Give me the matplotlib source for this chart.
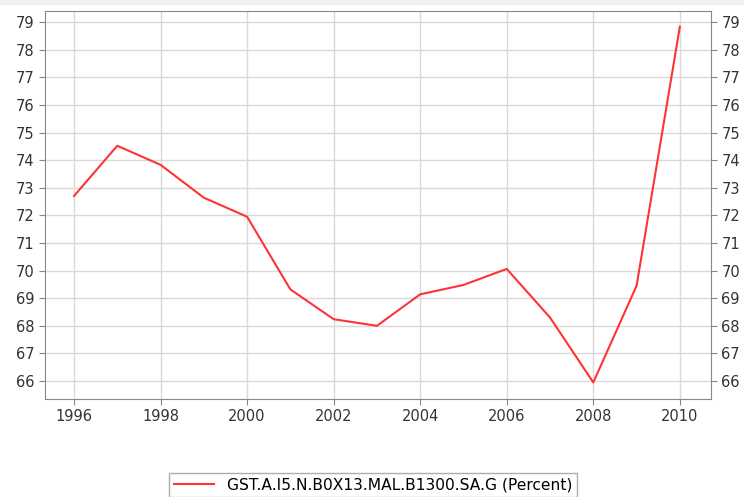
import matplotlib.pyplot as plt
from matplotlib.patches import Rectangle

years = [1996, 1997, 1998, 1999, 2000, 2001, 2002, 2003, 2004, 2005, 2006, 2007, 2008, 2009, 2010]
values = [72.7, 74.52, 73.83, 72.64, 71.95, 69.32, 68.24, 68.0, 69.14, 69.48, 70.06, 68.3, 65.95, 69.45, 78.83]
series_name = 'GST.A.I5.N.B0X13.MAL.B1300.SA.G (Percent)'

fig = plt.figure(figsize=(7.44, 4.97), dpi=100)
# thin light grey frame at the top edge of the picture
fig.patches.append(Rectangle((0, 1-4/497), 1, 4/497, transform=fig.transFigure,
                             color='#f0f0f0', zorder=0))
ax = fig.add_axes([45/744, 1-399/497, 666/744, 388/497])

ax.plot(years, values, color='#ff3333', lw=1.5, label=series_name)

ax.set_xlim(1995.33, 2010.72)
ax.set_ylim(65.35, 79.4)
ax.set_xticks(range(1996, 2011, 2))
ax.set_yticks(range(66, 80))
ax.grid(True, color='#d9d9d9', lw=1)
ax.set_axisbelow(True)

for s in ax.spines.values():
    s.set_color('#888888')
ax.tick_params(colors='#888888', labelcolor='#333333', labelsize=10.5, length=4,
               left=True, right=True, labelleft=True, labelright=True)

fig.legend(loc='upper center', bbox_to_anchor=(373/744, 1-465/497), frameon=True,
           fancybox=False, edgecolor='#999999', fontsize=11.2, handlelength=2.6,
           borderpad=0.3)

fig.savefig('out.png', dpi=100)
